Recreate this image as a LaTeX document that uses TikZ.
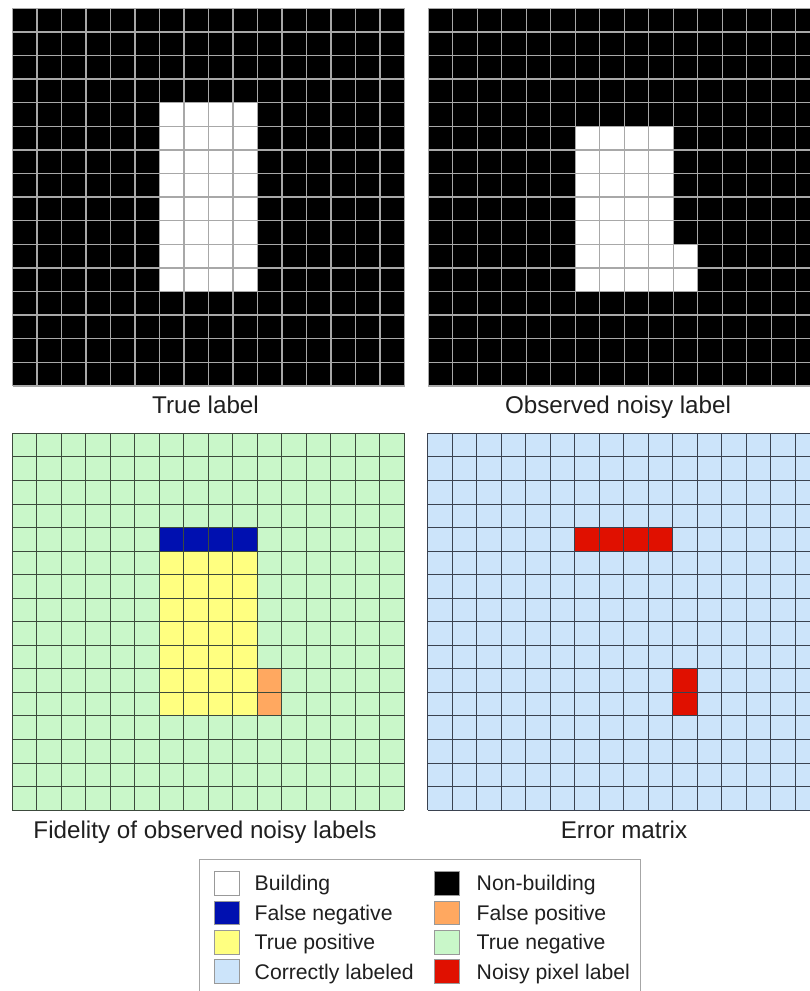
\documentclass[tikz,border=0pt]{standalone}
\usepackage{fontspec}
\setmainfont{Liberation Sans}
\definecolor{tneg}{HTML}{C9F7C9}
\definecolor{corr}{HTML}{CCE4FA}
\definecolor{tpos}{HTML}{FFFF80}
\definecolor{fpos}{HTML}{FFA860}
\definecolor{fneg}{HTML}{0010B0}
\definecolor{noisy}{HTML}{E01000}
\definecolor{glight}{HTML}{A8A8A8}
\definecolor{gdark}{HTML}{3C4A3C}
\definecolor{gdarkb}{HTML}{3A4250}
\tikzset{
  glw/.style={draw=glight, line width=1.3pt},
  gdk/.style={draw=gdark, line width=0.9pt},
  gdkb/.style={draw=gdarkb, line width=0.9pt},
  lbl/.style={anchor=base, font=\fontsize{24.2}{27}\selectfont, text=black!88, inner sep=0pt},
  legtxt/.style={anchor=base west, font=\fontsize{21.2}{24}\selectfont, text=black!88, inner sep=0pt},
  swatch/.style={draw=black!40, line width=0.8pt, minimum width=25pt, minimum height=23.5pt, inner sep=0pt},
}
\begin{document}
\begin{tikzpicture}[x=1pt,y=-1pt]
\useasboundingbox (0,0) rectangle (810,991);
\fill[white] (0,0) rectangle (810,991);
\clip (0,0) rectangle (810,991);

% ---- True label ----
\begin{scope}[shift={(12.5,8.3)}, x=24.5pt, y=-23.6pt]
  \fill[black] (0,0) rectangle (16,16);
  \fill[white] (6,4) rectangle (10,12);
  \foreach \i in {0,...,16} {\draw[glw] (\i,0) -- (\i,16); \draw[glw] (0,\i) -- (16,\i);}
\end{scope}
\node[lbl] (tl) at (205.5,413) {True label};

% ---- Observed noisy label ----
\begin{scope}[shift={(428.3,8.3)}, x=24.5pt, y=-23.6pt]
  \fill[black] (0,0) rectangle (16,16);
  \fill[white] (6,5) rectangle (10,12);
  \fill[white] (10,10) rectangle (11,12);
  \foreach \i in {0,...,16} {\draw[glw] (\i,0) -- (\i,16); \draw[glw] (0,\i) -- (16,\i);}
\end{scope}
\node[lbl] (nl) at (618,413) {Observed noisy label};

% ---- Fidelity ----
\begin{scope}[shift={(12.3,433.3)}, x=24.5pt, y=-23.55pt]
  \fill[tneg] (0,0) rectangle (16,16);
  \fill[fneg] (6,4) rectangle (10,5);
  \fill[tpos] (6,5) rectangle (10,12);
  \fill[fpos] (10,10) rectangle (11,12);
  \foreach \i in {0,...,16} {\draw[gdk] (\i,0) -- (\i,16); \draw[gdk] (0,\i) -- (16,\i);}
\end{scope}
\node[lbl] (fl) at (205,838) {Fidelity of observed noisy labels};

% ---- Error matrix ----
\begin{scope}[shift={(427.7,433.3)}, x=24.5pt, y=-23.55pt]
  \fill[corr] (0,0) rectangle (16,16);
  \fill[noisy] (6,4) rectangle (10,5);
  \fill[noisy] (10,10) rectangle (11,12);
  \foreach \i in {0,...,16} {\draw[gdkb] (\i,0) -- (\i,16); \draw[gdkb] (0,\i) -- (16,\i);}
\end{scope}
\node[lbl] (el) at (624,838) {Error matrix};

% ---- Legend ----
\draw[black!35, line width=1pt] (199,859.3) rectangle (640,1000);
\node[swatch, fill=white] (s1) at (226.7,883.3) {};
\node[swatch, fill=fneg] (s2) at (226.7,912.9) {};
\node[swatch, fill=tpos] (s3) at (226.7,942.5) {};
\node[swatch, fill=corr] (s4) at (226.7,971.5) {};
\node[swatch, fill=black] (s5) at (447.2,883.3) {};
\node[swatch, fill=fpos] (s6) at (447.2,912.9) {};
\node[swatch, fill=tneg] (s7) at (447.2,942.5) {};
\node[swatch, fill=noisy] (s8) at (447.2,971.5) {};
\node[legtxt] (t1) at (254.5,890.7) {Building};
\node[legtxt] (t2) at (254.5,920.3) {False negative};
\node[legtxt] (t3) at (254.5,949.9) {True positive};
\node[legtxt] (t4) at (254.5,979) {Correctly labeled};
\node[legtxt] (t5) at (476.5,890.7) {Non-building};
\node[legtxt] (t6) at (476.5,920.3) {False positive};
\node[legtxt] (t7) at (476.5,949.9) {True negative};
\node[legtxt] (t8) at (476.5,979) {Noisy pixel label};
\end{tikzpicture}
\end{document}
